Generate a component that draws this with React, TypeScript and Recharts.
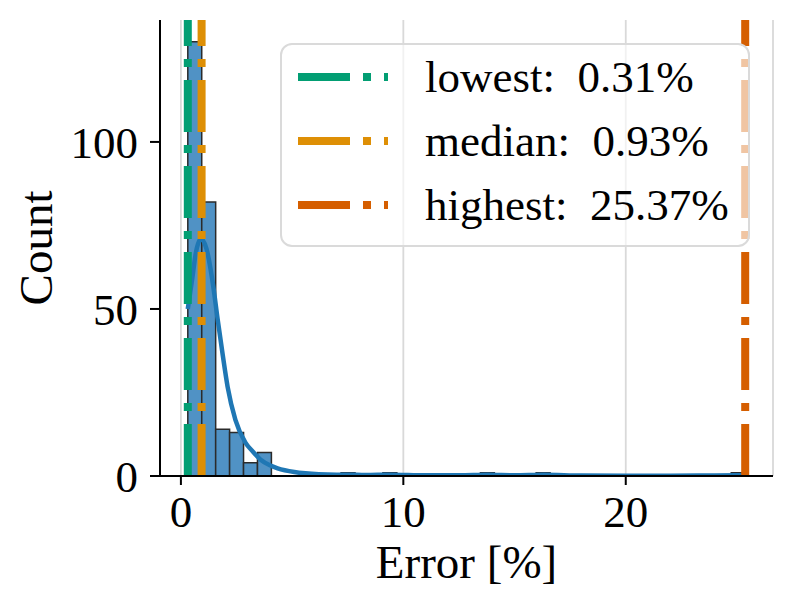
import {
  CartesianGrid,
  ComposedChart,
  Label,
  Legend,
  Line,
  ReferenceArea,
  ReferenceLine,
  XAxis,
  YAxis,
} from "recharts"

const FONT = "'Liberation Serif', 'Times New Roman', serif"

// histogram: 40 equal bins from the lowest to the highest error
const binStart = 0.31
const binEnd = 25.37
const binCounts = [
  130, 82, 14, 13, 4, 7, 0, 0, 0, 0,
  0, 1, 0, 0, 1, 0, 0, 0, 0, 0,
  0, 1, 0, 0, 0, 1, 0, 0, 0, 0,
  0, 0, 0, 0, 0, 0, 0, 0, 0, 1,
]

// kde curve (x in %, y in counts)
const kdeX = [
  0.31, 0.5, 0.67, 0.9, 1.15, 1.45, 1.65, 1.87, 2.1, 2.45, 2.9, 3.25, 3.6, 4.0, 4.35,
  5.1, 5.6, 6.2, 7.0, 7.5, 8.3, 9.4, 11.0, 12.5, 13.8, 15.0, 16.3, 18.0, 20.0, 22.0,
  24.0, 25.37,
]
const kdeY = [
  50, 58.7, 66.7, 71, 68, 57, 47, 36.7, 26.7, 16.8, 10, 7.2, 4.8, 3.2, 2.3,
  1.2, 0.8, 0.5, 0.35, 0.4, 0.3, 0.4, 0.2, 0.2, 0.35, 0.2, 0.35, 0.15, 0.1, 0.1,
  0.15, 0.3,
]

const markerLabels = ["lowest", "median", "highest"]
const markerValues = [0.31, 0.93, 25.37]
const markerColors = ["#029e73", "#de8f05", "#d55e00"]

const xTicks = [0, 10, 20]
const yTicks = [0, 50, 100]

const binWidth = (binEnd - binStart) / binCounts.length
const bins = binCounts.map((count, i) => ({
  x1: binStart + i * binWidth,
  x2: binStart + (i + 1) * binWidth,
  count,
}))
const kde = kdeX.map((x, i) => ({ x, y: kdeY[i] }))

const DASH = "52 13 8 13"

function MarkerLegend() {
  return (
    <div
      style={{
        width: "100%",
        height: "100%",
        boxSizing: "border-box",
        border: "2px solid #dadada",
        borderRadius: 12,
        background: "rgba(255,255,255,0.64)",
        fontFamily: FONT,
        fontSize: 45,
        color: "#000",
      }}
    >
      {markerLabels.map((label, i) => (
        <div
          key={label}
          style={{ display: "flex", alignItems: "center", height: 64, lineHeight: "64px" }}
        >
          <svg width={90} height={10} style={{ marginLeft: 16, marginRight: 37, flex: "none" }}>
            <line x1={0} y1={5} x2={90} y2={5} stroke={markerColors[i]} strokeWidth={8} strokeDasharray={DASH} />
          </svg>
          <span style={{ whiteSpace: "pre" }}>
            {`${label}:  ${markerValues[i].toFixed(2)}%`}
          </span>
        </div>
      ))}
    </div>
  )
}

function CountLabel({ viewBox }: any) {
  const cx = viewBox.x + 52
  const cy = viewBox.y + viewBox.height / 2
  return (
    <text
      x={cx}
      y={cy}
      transform={`rotate(-90 ${cx} ${cy})`}
      textAnchor="middle"
      fontFamily={FONT}
      fontSize={47}
      fill="#000"
    >
      Count
    </text>
  )
}

export default function App() {
  return (
    <div style={{ position: "absolute", left: 0, top: 0, width: 792, height: 615, background: "#fff" }}>
      <ComposedChart
        width={792}
        height={615}
        data={kde}
        margin={{ top: 20, right: 19, bottom: 0, left: 0 }}
      >
        <CartesianGrid horizontal={false} stroke="#d9d9d9" strokeWidth={1.8} />
        <XAxis
          dataKey="x"
          type="number"
          domain={[-0.94, 26.62]}
          ticks={xTicks}
          allowDataOverflow
          height={139}
          tickSize={9}
          tickMargin={10}
          axisLine={{ stroke: "#000", strokeWidth: 2 }}
          tickLine={{ stroke: "#000", strokeWidth: 2 }}
          tick={{ fontFamily: FONT, fontSize: 45, fill: "#000" }}
        >
          <Label
            value="Error [%]"
            position="insideBottom"
            offset={37}
            style={{ fontFamily: FONT, fontSize: 47, fill: "#000" }}
          />
        </XAxis>
        <YAxis
          type="number"
          domain={[0, 136.5]}
          ticks={yTicks}
          allowDataOverflow
          width={160}
          tickSize={10}
          tickMargin={12}
          axisLine={{ stroke: "#000", strokeWidth: 2 }}
          tickLine={{ stroke: "#000", strokeWidth: 2 }}
          tick={{ fontFamily: FONT, fontSize: 45, fill: "#000" }}
        >
          <Label content={CountLabel} />
        </YAxis>
        {bins
          .filter((b) => b.count > 0)
          .map((b) => (
            <ReferenceArea
              key={b.x1}
              x1={b.x1}
              x2={b.x2}
              y1={0}
              y2={b.count}
              fill="#5092c5"
              fillOpacity={1}
              stroke="#2b2b2b"
              strokeWidth={1.5}
              strokeOpacity={1}
            />
          ))}
        <Line
          dataKey="y"
          type="monotone"
          stroke="#1f77b4"
          strokeWidth={4.5}
          dot={false}
          activeDot={false}
          isAnimationActive={false}
        />
        {markerValues.map((v, i) => (
          <ReferenceLine
            key={markerLabels[i]}
            x={v}
            stroke={markerColors[i]}
            strokeWidth={8}
            strokeDasharray={DASH}
          />
        ))}
        <Legend
          content={<MarkerLegend />}
          layout="horizontal"
          verticalAlign="middle"
          align="center"
          wrapperStyle={{ left: 280, top: 43, width: 470, height: 204 }}
        />
      </ComposedChart>
    </div>
  )
}
